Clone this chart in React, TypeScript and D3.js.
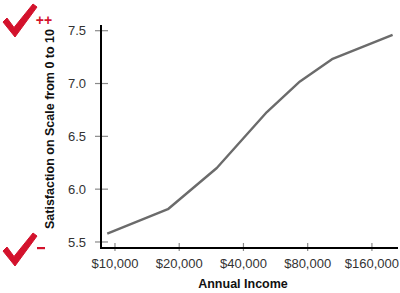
import React from "react";
import * as d3 from "d3";

const incomes = [9200, 17700, 30000, 51500, 73600, 104000, 200000];
const satisfaction = [5.58, 5.81, 6.2, 6.73, 7.02, 7.23, 7.46];
const xTicks = [10000, 20000, 40000, 80000, 160000];
const yTicks = [5.5, 6.0, 6.5, 7.0, 7.5];

const W = 400;
const H = 293;
const RED = "#d3122c";

export default function App() {
  const x = d3.scaleLog().base(2).domain([8600, 212000]).range([101, 398]);
  const y = d3.scaleLinear().domain([5.443, 7.554]).range([248, 25]);
  const line = d3
    .line<number>()
    .x((_, i) => x(incomes[i]))
    .y((d) => y(d));
  const fmt = (v: number) => "$" + d3.format(",")(v);
  const font = "'Liberation Sans', Arial, Helvetica, sans-serif";
  const [x0, x1] = x.range();
  const [yb, yt] = y.range();

  const check = (ox: number, oy: number) => {
    // tapered brush-like check mark
    const p = [
      [3, 22],
      [7, 18],
      [14, 27.5],
      [33, 4],
      [37, 7],
      [15, 37],
    ]
      .map(([a, b]) => `${ox + a},${oy + b}`)
      .join(" ");
    return <polygon points={p} fill={RED} stroke={RED} strokeWidth={1} strokeLinejoin="round" />;
  };

  return (
    <svg
      width={W}
      height={H}
      style={{ position: "absolute", left: 0, top: 0, background: "#fff" }}
      fontFamily={font}
    >
      {/* y ticks */}
      {yTicks.map((t) => (
        <g key={t}>
          <line x1={95} x2={108} y1={y(t)} y2={y(t)} stroke="#8a8a8a" strokeWidth={1.2} />
          <text x={86} y={y(t)} dy="0.35em" textAnchor="end" fontSize={13} fill="#333">
            {t.toFixed(1)}
          </text>
        </g>
      ))}
      {/* x ticks */}
      {xTicks.map((t) => (
        <g key={t}>
          <line x1={x(t)} x2={x(t)} y1={243} y2={251} stroke="#8a8a8a" strokeWidth={1.2} />
          <text x={x(t)} y={263} dy="0.35em" textAnchor="middle" fontSize={13} fill="#333">
            {fmt(t)}
          </text>
        </g>
      ))}
      {/* axes */}
      <line x1={x0} x2={x0} y1={yt} y2={yb + 1} stroke="#000" strokeWidth={2} />
      <line x1={x0 - 1} x2={x1} y1={yb} y2={yb} stroke="#000" strokeWidth={2} />
      {/* data line */}
      <path d={line(satisfaction) || ""} fill="none" stroke="#6b6b6b" strokeWidth={2.4} strokeLinejoin="round" />
      {/* axis titles */}
      <text x={243} y={284} dy="0.35em" textAnchor="middle" fontSize={12.5} fontWeight="bold" fill="#111">
        Annual Income
      </text>
      <text
        transform={`translate(50,129) rotate(-90)`}
        dy="0.35em"
        textAnchor="middle"
        fontSize={12.5}
        fontWeight="bold"
        fill="#111"
      >
        Satisfaction on Scale from 0 to 10
      </text>
      {/* check marks */}
      {check(0, 0)}
      <text x={44} y={20} dy="0.35em" textAnchor="middle" fontSize={14} fontWeight="bold" fill={RED}>
        ++
      </text>
      {check(0, 229)}
      <rect x={37} y={247} width={8} height={2.2} fill={RED} />
    </svg>
  );
}
